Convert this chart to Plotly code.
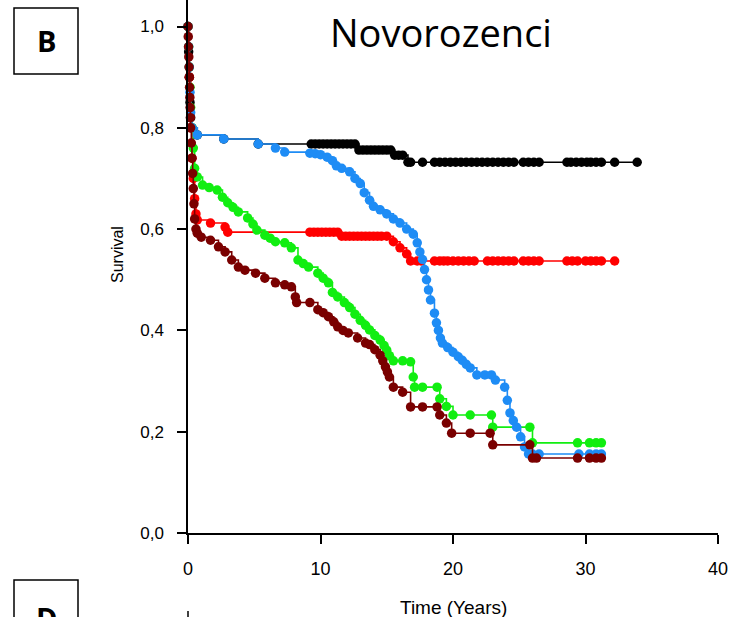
import plotly.graph_objects as go

# ---------------- data ----------------
X_TICKS = [0, 10, 20, 30, 40]
X_TICK_LABELS = ["0", "10", "20", "30", "40"]
Y_TICKS = [0.0, 0.2, 0.4, 0.6, 0.8, 1.0]
Y_TICK_LABELS = ["0,0", "0,2", "0,4", "0,6", "0,8", "1,0"]

black_t = [0, 0.05, 0.1, 0.15, 0.2, 0.3, 0.7, 2.7, 5.3, 9.3, 9.6, 9.9, 10.2, 10.5, 10.8, 11.1,
           11.4, 11.7, 12.0, 12.3, 12.6, 12.9, 13.2, 13.5, 13.8, 14.1, 14.4, 14.7, 15.0, 15.3,
           15.6, 15.9, 16.2, 16.6, 16.8, 17.7, 18.6, 19.0, 19.4, 19.8, 20.2, 20.6, 21.0, 21.4,
           21.8, 22.2, 22.6, 23.0, 23.4, 23.8, 24.2, 24.6, 25.3, 25.7, 26.1, 26.5, 28.6,
           28.9, 29.3, 29.7, 30.1, 30.4, 30.8, 31.2, 32.2, 33.9]
black_s = [1.0, 0.95, 0.90, 0.85, 0.82, 0.80, 0.786, 0.778, 0.768] + [0.768] * 12 + \
          [0.756] * 9 + [0.746] * 3 + [0.732] * 33

red_t = [0, 0.1, 0.2, 0.3, 0.4, 0.5, 0.6, 0.7, 1.7, 2.8, 3.0, 9.2, 9.5, 9.8, 10.1, 10.4,
         10.7, 11.0, 11.3, 11.6, 11.9, 12.2, 12.5, 12.8, 13.1, 13.4, 13.7, 14.0, 14.3, 14.6,
         15.0, 15.5, 16.0, 16.5, 16.8, 17.3, 17.6, 18.6, 19.0, 19.3, 19.6, 20.0, 20.4, 20.8,
         21.2, 21.6, 22.6, 23.0, 23.4, 23.8, 24.2, 24.6, 25.3, 25.7, 26.1, 26.5, 28.6, 29.0,
         29.4, 30.0, 30.4, 30.8, 31.2, 32.2]
red_s = [1.0, 0.90, 0.80, 0.74, 0.70, 0.66, 0.63, 0.618, 0.612, 0.604, 0.594] + [0.594] * 8 + \
        [0.586] * 12 + [0.575, 0.563, 0.551, 0.537] + [0.537] * 29

green_t = [0, 0.05, 0.1, 0.15, 0.2, 0.3, 0.4, 0.5, 0.7, 1.1, 1.6, 2.2, 2.6, 3.0, 3.4, 3.8, 4.5,
           4.9, 5.2, 5.8, 6.2, 6.6, 7.3, 7.8, 8.3, 8.7, 9.1, 9.8, 10.2, 10.6, 10.9, 11.3, 11.8,
           12.2, 12.6, 13.0, 13.4, 13.7, 14.1, 14.5, 14.8, 15.0, 15.2, 15.5, 16.2, 16.8, 17.0,
           17.1, 17.7, 18.8, 19.0, 19.5, 20.0, 21.3, 22.9, 23.0, 25.8, 26.0, 29.4, 30.3, 30.8, 31.2]
green_s = [1.0, 0.96, 0.92, 0.88, 0.84, 0.80, 0.76, 0.72, 0.703, 0.687, 0.682, 0.677, 0.663,
           0.652, 0.643, 0.634, 0.622, 0.610, 0.598, 0.588, 0.582, 0.575, 0.573, 0.563, 0.539,
           0.532, 0.525, 0.513, 0.503, 0.494, 0.475, 0.466, 0.455, 0.445, 0.432, 0.420, 0.410,
           0.401, 0.390, 0.381, 0.370, 0.361, 0.350, 0.340, 0.340, 0.338, 0.308, 0.288, 0.288,
           0.288, 0.265, 0.250, 0.233, 0.233, 0.233, 0.209, 0.209, 0.178, 0.178, 0.178, 0.178, 0.178]

blue_t = [0, 0.05, 0.1, 0.15, 0.2, 0.3, 0.7, 2.7, 5.3, 6.6, 7.3, 9.2, 9.6, 10.0, 10.5, 10.9,
          11.2, 11.6, 12.2, 12.6, 13.0, 13.3, 13.7, 14.0, 14.5, 15.0, 15.5, 16.0, 16.5, 17.0,
          17.3, 17.5, 17.7, 17.85, 18.0, 18.15, 18.3, 18.6, 18.75, 18.9, 19.05, 19.2, 19.6, 20.0,
          20.4, 20.7, 21.0, 21.3, 21.8, 22.4, 22.9, 23.2, 23.9, 24.1, 24.3, 24.55, 24.8, 25.1,
          25.4, 25.7, 26.0, 26.5, 29.5, 30.3, 30.8, 31.2]
blue_s = [1.0, 0.96, 0.92, 0.87, 0.83, 0.80, 0.786, 0.778, 0.768, 0.760, 0.752, 0.750, 0.749,
          0.747, 0.742, 0.735, 0.725, 0.720, 0.713, 0.700, 0.690, 0.672, 0.657, 0.645, 0.638,
          0.630, 0.620, 0.612, 0.600, 0.590, 0.573, 0.555, 0.540, 0.520, 0.500, 0.480, 0.460,
          0.434, 0.415, 0.400, 0.385, 0.375, 0.366, 0.357, 0.348, 0.341, 0.333, 0.326, 0.312,
          0.312, 0.312, 0.302, 0.288, 0.262, 0.237, 0.222, 0.209, 0.190, 0.170, 0.156, 0.156,
          0.156, 0.156, 0.156, 0.156, 0.156]

maroon_t = [0, 0.02, 0.04, 0.06, 0.08, 0.1, 0.12, 0.14, 0.16, 0.18, 0.2, 0.25, 0.3, 0.35, 0.4,
            0.45, 0.5, 0.6, 0.7, 1.0, 1.7, 2.3, 2.8, 3.3, 3.8, 4.3, 5.1, 5.8, 6.6, 7.3, 7.8, 8.1,
            8.2, 9.2, 9.8, 10.2, 10.6, 11.0, 11.3, 11.7, 12.1, 12.8, 13.4, 13.7, 14.1, 14.5,
            14.7, 14.9, 15.05, 15.2, 15.5, 16.2, 16.8, 17.7, 18.8, 19.0, 19.5, 19.9, 21.3, 22.8,
            23.0, 25.8, 26.0, 26.3, 29.4, 30.3, 30.8, 31.2]
maroon_s = [1.0, 0.98, 0.96, 0.94, 0.92, 0.90, 0.88, 0.86, 0.84, 0.82, 0.80, 0.77, 0.74, 0.71,
            0.68, 0.65, 0.62, 0.60, 0.592, 0.584, 0.578, 0.565, 0.555, 0.539, 0.525, 0.519,
            0.513, 0.503, 0.494, 0.490, 0.486, 0.466, 0.455, 0.455, 0.441, 0.435, 0.427, 0.417,
            0.407, 0.400, 0.395, 0.385, 0.375, 0.372, 0.362, 0.351, 0.340, 0.328, 0.318, 0.308,
            0.288, 0.278, 0.249, 0.249, 0.249, 0.233, 0.217, 0.197, 0.197, 0.197, 0.174, 0.174,
            0.148, 0.148, 0.148, 0.148, 0.148, 0.148]

SERIES = [
    ("black", black_t, black_s, "#000000"),
    ("red", red_t, red_s, "#ff0000"),
    ("green", green_t, green_s, "#11ee11"),
    ("blue", blue_t, blue_s, "#1e8cf5"),
    ("maroon", maroon_t, maroon_s, "#7a0000"),
]

TITLE = "Novorozenci"
X_TITLE = "Time (Years)"
Y_TITLE = "Survival"

# ---------------- layout geometry ----------------
W, H = 735, 617
L, R, T, B = 188, 17, 0, 84
PW, PH = W - L - R, H - T - B
Y_TOP = 533 / 506.5  # axis line reaches the top edge


def px(x):
    return (x - L) / PW


def py(y):
    return (H - B - y) / PH


fig = go.Figure()
for name, t, s, col in SERIES:
    fig.add_trace(go.Scatter(
        x=t, y=s, mode="lines+markers", name=name,
        line=dict(color=col, width=1.6, shape="hv"),
        marker=dict(color=col, size=9.5, line=dict(width=0)),
        cliponaxis=False, showlegend=False,
    ))

FONT = "Liberation Sans, Arial, sans-serif"
fig.update_layout(
    width=W, height=H, autosize=False,
    margin=dict(l=L, r=R, t=T, b=B, pad=0),
    paper_bgcolor="white", plot_bgcolor="white",
    font=dict(family=FONT, color="black", size=16),
    xaxis=dict(range=[0, 40], tickvals=X_TICKS, ticktext=X_TICK_LABELS,
               showgrid=False, zeroline=False, showline=True, linecolor="black",
               linewidth=1.5, ticks="outside", ticklen=9, tickwidth=1.5,
               tickcolor="black", tickfont=dict(size=18), ticklabelstandoff=10),
    yaxis=dict(range=[0, Y_TOP], tickvals=Y_TICKS, ticktext=Y_TICK_LABELS,
               showgrid=False, zeroline=False, showline=True, linecolor="black",
               linewidth=1.5, ticks="outside", ticklen=9, tickwidth=1.5,
               tickcolor="black", tickfont=dict(size=17), ticklabelstandoff=10),
)

ann = [
    dict(text=TITLE, x=px(441), y=py(32), font=dict(family="Open Sans, sans-serif", size=38)),
    dict(text=X_TITLE, x=px(453), y=py(607), font=dict(size=19)),
    dict(text=Y_TITLE, x=px(118), y=py(255), textangle=-90, font=dict(size=16)),
    dict(text="<b>B</b>", x=px(46), y=py(41), font=dict(family="Open Sans, sans-serif", size=29)),
    dict(text="<b>D</b>", x=px(46), y=py(617), font=dict(family="Open Sans, sans-serif", size=29)),
]
for a in ann:
    fig.add_annotation(xref="paper", yref="paper", showarrow=False,
                       xanchor="center", yanchor="middle", **a)

fig.add_shape(type="rect", xref="paper", yref="paper",
              x0=px(14), x1=px(78), y0=py(8), y1=py(74),
              line=dict(color="black", width=1.5))
fig.add_shape(type="rect", xref="paper", yref="paper",
              x0=px(14), x1=px(78), y0=py(580), y1=py(650),
              line=dict(color="black", width=1.5))
fig.add_shape(type="line", xref="paper", yref="paper",
              x0=px(188), x1=px(188), y0=py(611), y1=py(617),
              line=dict(color="black", width=1.5))

fig.write_html("out.html")
